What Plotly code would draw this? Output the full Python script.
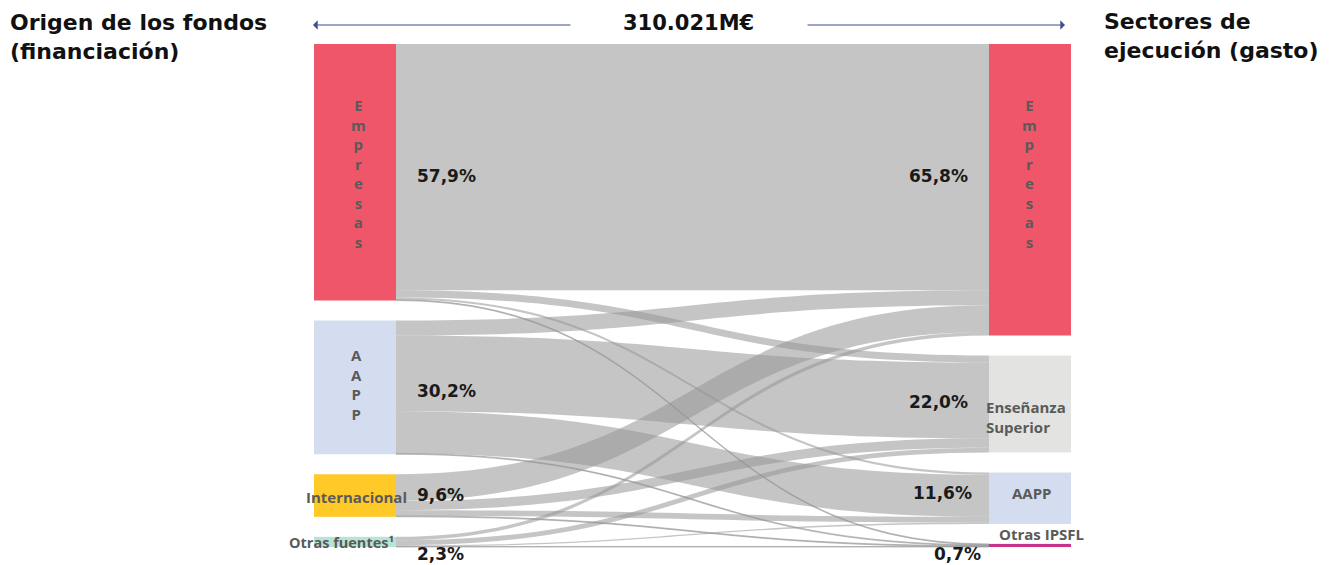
import plotly.graph_objects as go

W, H = 1330, 565
OX, OY = 8, 8  # page body margin of the browser

# ---------------- data ----------------
left_names = ["Empresas", "AAPP", "Internacional", "Otras fuentes¹"]
right_names = ["Empresas", "Enseñanza Superior", "AAPP", "Otras IPSFL"]
left_pct = ["57,9%", "30,2%", "9,6%", "2,3%"]
right_pct = ["65,8%", "22,0%", "11,6%", "0,7%"]
total_label = "310.021M€"
left_title = "Origen de los fondos<br>(financiación)"
right_title = "Sectores de<br>ejecución (gasto)"

# flows in % of total; order of targets = right_names
flow_empresas = [55.6, 1.6, 0.5, 0.2]
flow_aapp = [3.4, 17.1, 9.5, 0.2]
flow_internacional = [6.0, 2.1, 1.3, 0.2]
flow_otras = [0.8, 1.1, 0.3, 0.1]
flows = [flow_empresas, flow_aapp, flow_internacional, flow_otras]

left_colors = ["#F0566A", "#D4DDEF", "#FFC928", "#B7E4D4"]
right_colors = ["#F0566A", "#E3E3E1", "#D4DDEF", "#C8318C"]

# ---------------- geometry (screen pixels) ----------------
TOP, BOTTOM = 44, 547
PAD = 20
THICK = 82
plot_h = BOTTOM - TOP
left_vals = [sum(r) for r in flows]
right_vals = [sum(r[j] for r in flows) for j in range(4)]
ky = (plot_h - PAD * 3) / max(sum(left_vals), sum(right_vals))


def centers(vals):
    out, y = [], 0.0
    for v in vals:
        h = v * ky
        out.append((y + h / 2) / plot_h)
        y += h + PAD
    return out


def px(x):
    return (x - OX) / W


def py(y):
    return 1 - (y - OY) / H


node_x = [px(355)] * 4 + [px(1030)] * 4
node_y = centers(left_vals) + centers(right_vals)

src, tgt, val = [], [], []
for i, row in enumerate(flows):
    for j, v in enumerate(row):
        if v > 0:
            src.append(i)
            tgt.append(4 + j)
            val.append(v)

fig = go.Figure(go.Sankey(
    arrangement="fixed",
    domain=dict(x=[0, 1], y=[py(BOTTOM), py(TOP)]),
    node=dict(
        label=[""] * 8,
        x=node_x, y=node_y,
        pad=PAD, thickness=THICK,
        color=left_colors + right_colors,
        line=dict(width=0),
        hoverinfo="none",
    ),
    link=dict(source=src, target=tgt, value=val,
              color="rgba(150,150,150,0.55)", hoverinfo="none"),
))

ann = []
LABEL_FONT = "Open Sans"
HEAD_FONT = "DejaVu Sans"
GRAY = "#5A5A5A"


def text(x, y, s, size, color="#111111", xanchor="center", yanchor="middle",
         align="center", weight=700, family=LABEL_FONT):
    ann.append(dict(x=px(x), y=py(y), xref="paper", yref="paper", text=s,
                    showarrow=False, xanchor=xanchor, yanchor=yanchor, align=align,
                    font=dict(family=family, size=size, color=color, weight=weight)))


# titles
text(8, 37, left_title, 22, xanchor="left", align="left", family=HEAD_FONT)
text(1102, 36, right_title, 22, xanchor="left", align="left", family=HEAD_FONT)
text(688, 23, total_label, 21, family=HEAD_FONT)

# arrows
for tip, tail in [(313, 572), (1065, 806)]:
    ann.append(dict(x=px(tip), y=py(25), xref="paper", yref="paper", text="",
                    showarrow=True, ax=tail - tip, ay=0, arrowhead=1, arrowsize=1.3,
                    arrowwidth=1.2, arrowcolor="#3D4F8C"))

# node labels
text(358, 173, "<br>".join(left_names[0]), 15, GRAY)
text(356, 385, "<br>".join(left_names[1]), 15, GRAY)
text(356, 497, left_names[2], 15, GRAY)
text(396, 542, left_names[3], 14.5, GRAY, xanchor="right")
text(1030, 173, "<br>".join(right_names[0]), 15, GRAY)
text(984, 417, right_names[1].replace(" ", "<br>"), 15, GRAY, xanchor="left", align="left")
text(1032, 493, right_names[2], 15, GRAY)
text(1041, 534, right_names[3], 15, GRAY)

# percentages
for s, y in zip(left_pct, [176, 391, 495, 554]):
    text(415, y, s, 17, "#1A1A1A", xanchor="left", family=HEAD_FONT)
for s, (x, y) in zip(right_pct, [(970, 176), (970, 402), (974, 493), (983, 554)]):
    text(x, y, s, 17, "#1A1A1A", xanchor="right", family=HEAD_FONT)

fig.update_layout(
    width=W, height=H,
    margin=dict(l=0, r=0, t=0, b=0),
    paper_bgcolor="white",
    font=dict(family=LABEL_FONT),
    annotations=ann,
)

fig.write_html("out.html")
